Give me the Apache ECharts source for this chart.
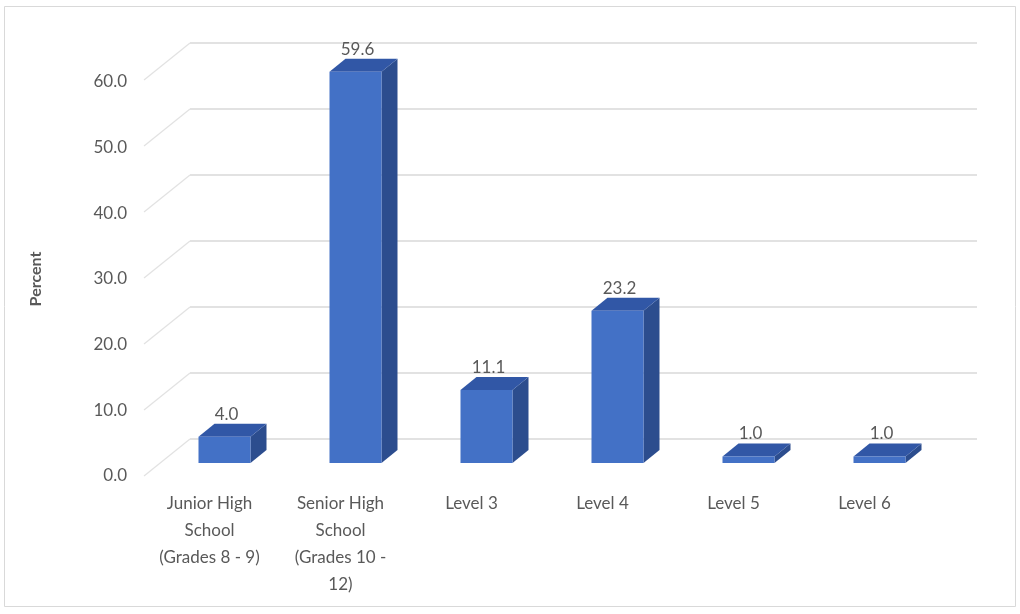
<!DOCTYPE html>
<html>
<head>
<meta charset="utf-8">
<script src="https://cdn.jsdelivr.net/npm/echarts@6/dist/echarts.min.js"></script>
<style>
  html, body { margin: 0; padding: 0; background: #fff; }
  #chart { width: 1020px; height: 614px; }
</style>
</head>
<body>
<div id="chart"></div>
<script>
// Education level distribution (percent)
const categories = [
  'Junior High\nSchool\n(Grades 8 - 9)',
  'Senior High\nSchool\n(Grades 10 -\n12)',
  'Level 3',
  'Level 4',
  'Level 5',
  'Level 6'
];
const percents = [4.0, 59.6, 11.1, 23.2, 1.0, 1.0];
const yTicks = [0, 10, 20, 30, 40, 50, 60];

const FONT = 'Lato, "Open Sans", sans-serif';
const TEXT = '#595959';
const GRID_LINE = '#d9d9d9';

// 3D depth of each box and of the back wall
const BAR_DEPTH = { dx: 16, dy: -13 };
const WALL_DEPTH = { dx: 46, dy: -37 };
const BAR_WIDTH = 52;

const chart = echarts.init(document.getElementById('chart'), null, { renderer: 'canvas' });

const yBase = { type: 'value', min: 0, max: 60, interval: 10 };

function renderBox(params, api) {
  const idx = api.value(0);
  const val = api.value(1);
  const top = api.coord([idx, val]);
  const base = api.coord([idx, 0]);
  const x0 = top[0] - BAR_WIDTH / 2;
  const x1 = top[0] + BAR_WIDTH / 2;
  const yT = top[1];
  const yB = base[1];
  const dx = BAR_DEPTH.dx, dy = BAR_DEPTH.dy;
  return {
    type: 'group',
    children: [
      { type: 'polygon', shape: { points: [[x1, yT], [x1 + dx, yT + dy], [x1 + dx, yB + dy], [x1, yB]] },
        style: { fill: '#2c4d8e' } },
      { type: 'polygon', shape: { points: [[x0, yT], [x0 + dx, yT + dy], [x1 + dx, yT + dy], [x1, yT]] },
        style: { fill: '#3157a6' } },
      { type: 'rect', shape: { x: x0, y: yT, width: BAR_WIDTH, height: yB - yT },
        style: { fill: '#4371c6' } },
      { type: 'text', x: top[0] + 2, y: yT + dy - 1,
        style: { text: val.toFixed(1), fill: TEXT, font: '17px ' + FONT, align: 'center', verticalAlign: 'bottom' } }
    ]
  };
}

function renderDiagonal(params, api) {
  const v = api.value(0);
  const p = api.coord([0, v]);
  const xBack = params.coordSys.x;
  return {
    type: 'line',
    shape: { x1: xBack, y1: p[1], x2: xBack - WALL_DEPTH.dx, y2: p[1] - WALL_DEPTH.dy },
    style: { stroke: '#e2e2e2', lineWidth: 1.2 }
  };
}

chart.setOption({
  backgroundColor: '#ffffff',
  animation: false,
  graphic: [{
    type: 'rect', shape: { x: 4.5, y: 6.5, width: 1011, height: 600 },
    style: { fill: 'none', stroke: '#d9d9d9', lineWidth: 1 }, z: -10
  }],
  grid: [
    // back wall
    { left: 190, right: 43, top: 43, bottom: 175 },
    // front plane with axis labels
    { left: 144, right: 90, top: 82, bottom: 138 },
    // bar front faces
    { left: 159, right: 75, top: 69, bottom: 151 }
  ],
  xAxis: [
    { gridIndex: 0, type: 'category', data: categories, show: false },
    { gridIndex: 1, type: 'category', data: categories,
      axisLine: { show: false }, axisTick: { show: false },
      axisLabel: { interval: 0, color: TEXT, fontFamily: FONT, fontSize: 17, lineHeight: 27, margin: 14 } },
    { gridIndex: 2, type: 'category', data: categories, show: false }
  ],
  yAxis: [
    Object.assign({ gridIndex: 0, axisLabel: { show: false }, axisLine: { show: false }, axisTick: { show: false },
      splitLine: { show: true, lineStyle: { color: GRID_LINE, width: 1.6 } } }, yBase),
    Object.assign({ gridIndex: 1, axisLine: { show: false }, axisTick: { show: false }, splitLine: { show: false },
      axisLabel: { color: TEXT, fontFamily: FONT, fontSize: 17, margin: 17, formatter: v => v.toFixed(1) },
      name: 'Percent', nameLocation: 'middle', nameGap: 100,
      nameTextStyle: { color: TEXT, fontFamily: FONT, fontSize: 16, fontWeight: 'bold' } }, yBase),
    Object.assign({ gridIndex: 2, show: false }, yBase)
  ],
  series: [
    {
      type: 'custom', xAxisIndex: 0, yAxisIndex: 0,
      renderItem: renderDiagonal,
      data: yTicks.map(v => [v]),
      encode: { y: 0 }, silent: true, z: 1
    },
    {
      type: 'custom', xAxisIndex: 2, yAxisIndex: 2,
      renderItem: renderBox,
      data: percents.map((v, i) => [i, v]),
      encode: { x: 0, y: 1 }, z: 5
    }
  ]
});
</script>
</body>
</html>
